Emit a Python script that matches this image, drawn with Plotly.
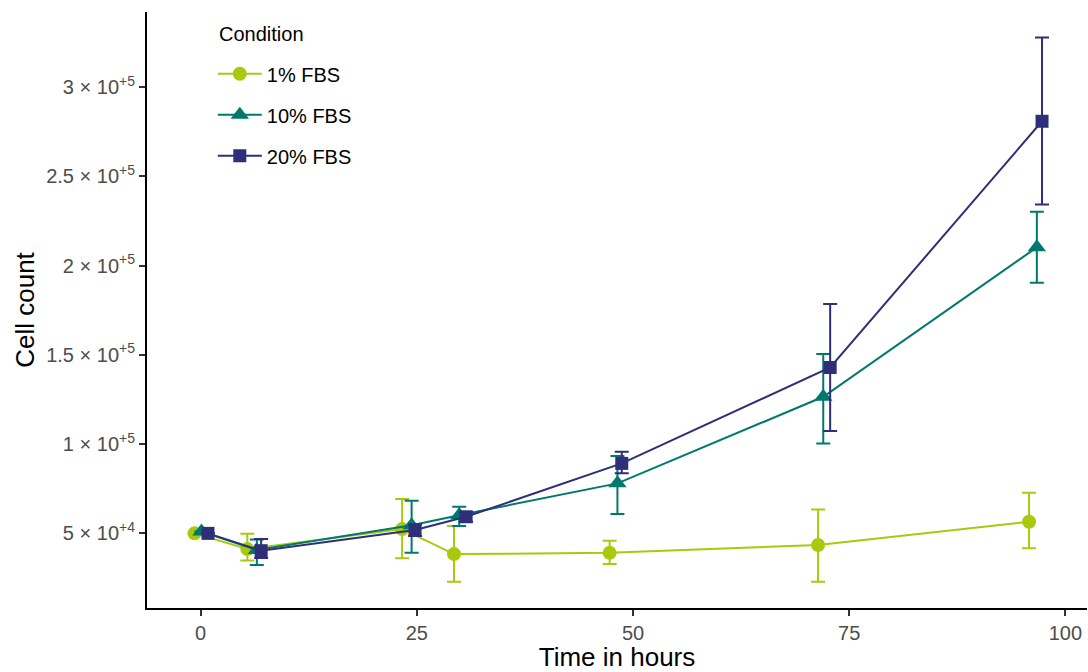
import plotly.graph_objects as go

conditions = ["1% FBS", "10% FBS", "20% FBS"]
colors = ["#A9C90E", "#00796D", "#2E2F78"]
symbols = ["circle", "triangle-up", "square"]

time_1 = [-0.7, 5.4, 23.3, 29.3, 47.3, 71.4, 95.8]
mean_1 = [50000, 41200, 52400, 38400, 39100, 43500, 56500]
upper_1 = [50000, 49800, 69200, 54100, 45900, 63400, 72800]
lower_1 = [50000, 34800, 36000, 22900, 32800, 22900, 41700]

time_10 = [0.1, 6.5, 24.4, 29.9, 48.2, 72.0, 96.7]
mean_10 = [51000, 40700, 54600, 60200, 78000, 126500, 210200]
upper_10 = [51000, 46600, 68300, 64900, 93400, 150400, 230100]
lower_10 = [51000, 32300, 39100, 54100, 60800, 100400, 190300]

time_20 = [0.85, 7.0, 24.8, 30.7, 48.7, 72.8, 97.3]
mean_20 = [50000, 40300, 51900, 59300, 89200, 142900, 280800]
upper_20 = [50000, 46800, 55000, 62000, 95700, 178400, 327700]
lower_20 = [50000, 36200, 48500, 56500, 83600, 107400, 234200]

y_tickvals = [50000, 100000, 150000, 200000, 250000, 300000]
y_ticktext = ["5 × 10<sup>+4</sup>", "1 × 10<sup>+5</sup>", "1.5 × 10<sup>+5</sup>",
              "2 × 10<sup>+5</sup>", "2.5 × 10<sup>+5</sup>", "3 × 10<sup>+5</sup>"]
x_tickvals = [0, 25, 50, 75, 100]

series = [
    (time_1, mean_1, upper_1, lower_1),
    (time_10, mean_10, upper_10, lower_10),
    (time_20, mean_20, upper_20, lower_20),
]
marker_sizes = [14, 16, 13]

fig = go.Figure()
for i, (t, m, up, lo) in enumerate(series):
    fig.add_trace(go.Scatter(
        x=t, y=m, mode="lines+markers", name=conditions[i],
        legendgroup=conditions[i],
        line=dict(color=colors[i], width=2),
        marker=dict(symbol=symbols[i], size=marker_sizes[i], color=colors[i]),
        error_y=dict(type="data", symmetric=False,
                     array=[u - v for u, v in zip(up, m)],
                     arrayminus=[v - l for v, l in zip(m, lo)],
                     color=colors[i], thickness=2, width=7),
    ))

font_family = "Liberation Sans, Arial, sans-serif"
fig.update_layout(
    width=1088, height=672,
    margin=dict(l=147, r=1, t=12, b=64),
    paper_bgcolor="white", plot_bgcolor="white",
    font=dict(family=font_family, color="black"),
    legend=dict(
        x=0.070, y=0.929, xanchor="left", yanchor="top",
        font=dict(size=20, color="black"),
        tracegroupgap=12, traceorder="grouped", itemwidth=44,
        bgcolor="rgba(0,0,0,0)",
    ),
    annotations=[dict(
        text="Condition", x=0.074, y=0.985, xref="paper", yref="paper",
        xanchor="left", yanchor="top", showarrow=False,
        font=dict(size=20, color="black"),
    )],
    xaxis=dict(
        range=[-6.2, 102.5], tickvals=x_tickvals,
        showline=True, linecolor="black", linewidth=2,
        ticks="outside", ticklen=6, tickcolor="#333333", tickwidth=2,
        tickfont=dict(size=20, color="#4D4D4D"),
        showgrid=False, zeroline=False,
        title=dict(text="Time in hours", font=dict(size=26, color="black"), standoff=3),
    ),
    yaxis=dict(
        range=[8200, 342000], tickvals=y_tickvals, ticktext=y_ticktext,
        showline=True, linecolor="black", linewidth=2,
        ticks="outside", ticklen=6, tickcolor="#333333", tickwidth=2,
        tickfont=dict(size=20, color="#4D4D4D"),
        showgrid=False, zeroline=False,
        title=dict(text="Cell count", font=dict(size=26, color="black"), standoff=4),
    ),
)

fig.write_html("out.html", config={"displayModeBar": False},
               post_script="document.body.style.margin='0';")
